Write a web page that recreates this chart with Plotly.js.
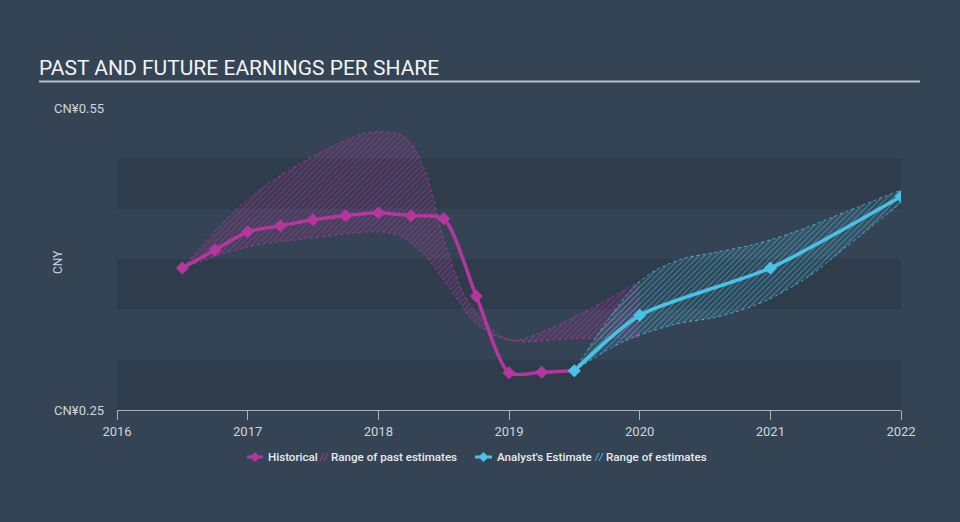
<!DOCTYPE html>
<html>
<head>
<meta charset="utf-8">
<script src="https://cdn.plot.ly/plotly-3.0.1.min.js"></script>
<style>
html,body{margin:0;padding:0;background:#344454;}
#chart{width:960px;height:522px;}
</style>
</head>
<body>
<div id="chart"></div>
<script>
// ---- data ----
const histX = [2016.5, 2016.75, 2017, 2017.25, 2017.5, 2017.75, 2018, 2018.25, 2018.5, 2018.75, 2019, 2019.25, 2019.5];
const histY = [0.391, 0.409, 0.427, 0.433, 0.439, 0.443, 0.446, 0.443, 0.440, 0.363, 0.287, 0.2875, 0.289];

const pastUpperX = [2016.5, 2017, 2017.5, 2017.95, 2018.2, 2018.35, 2018.5, 2018.7, 2019, 2019.3, 2019.55, 2019.8, 2020];
const pastUpperY = [0.391, 0.459, 0.502, 0.526, 0.521, 0.490, 0.420, 0.355, 0.320, 0.330, 0.346, 0.363, 0.378];
const pastLowerX = [2016.5, 2017, 2017.5, 2017.95, 2018.15, 2018.35, 2018.55, 2018.75, 2019, 2019.5, 2020];
const pastLowerY = [0.391, 0.412, 0.421, 0.427, 0.424, 0.404, 0.370, 0.336, 0.3195, 0.321, 0.3225];

const estX = [2019.5, 2020, 2021, 2022];
const estY = [0.289, 0.344, 0.391, 0.462];

const estUpperX = [2019.5, 2020, 2020.3, 2020.6, 2020.92, 2021.23, 2021.58, 2022];
const estUpperY = [0.289, 0.3775, 0.399, 0.407, 0.416, 0.429, 0.447, 0.4685];
const estLowerX = [2019.5, 2019.8, 2020, 2020.3, 2020.6, 2020.92, 2021.12, 2021.33, 2021.58, 2022];
const estLowerY = [0.289, 0.313, 0.3245, 0.336, 0.3427, 0.356, 0.369, 0.386, 0.412, 0.4556];

const xTicks = [2016, 2017, 2018, 2019, 2020, 2021, 2022];
const yTickVals = [0.25, 0.55];
const yTickText = ["CN¥0.25", "CN¥0.55"];
const bandLows = [0.25, 0.35, 0.45];

// ---- styling ----
const MAG = '#b5379d';
const CYAN = '#4cc1e6';
const BG = '#344454';
const BAND = '#2e3c4b';
const FONT = 'Roboto, "Open Sans", sans-serif';

const L = 117, R = 59, T = 108, B = 112, W = 960, H = 522;
const PW = W - L - R, PH = H - T - B;
const px = v => (v - L) / PW;
const py = v => (H - B - v) / PH;

const traces = [
  {x: pastLowerX, y: pastLowerY, mode: 'lines', line: {color: MAG, width: 0.8, dash: 'dot', shape: 'spline', smoothing: 1}, hoverinfo: 'skip', showlegend: false},
  {x: pastUpperX, y: pastUpperY, mode: 'lines', fill: 'tonexty', line: {color: MAG, width: 0.8, dash: 'dot', shape: 'spline', smoothing: 1},
   fillcolor: 'rgba(181,55,157,0.10)',
   fillpattern: {shape: '/', fgcolor: 'rgba(181,55,157,0.55)', bgcolor: 'rgba(181,55,157,0.08)', size: 4, solidity: 0.25},
   hoverinfo: 'skip', showlegend: false},
  {x: estLowerX, y: estLowerY, mode: 'lines', line: {color: CYAN, width: 0.8, dash: 'dot', shape: 'spline', smoothing: 1}, hoverinfo: 'skip', showlegend: false},
  {x: estUpperX, y: estUpperY, mode: 'lines', fill: 'tonexty', line: {color: CYAN, width: 0.8, dash: 'dot', shape: 'spline', smoothing: 1},
   fillcolor: 'rgba(76,193,230,0.10)',
   fillpattern: {shape: '/', fgcolor: 'rgba(76,193,230,0.55)', bgcolor: 'rgba(76,193,230,0.08)', size: 4, solidity: 0.25},
   hoverinfo: 'skip', showlegend: false},
  {x: histX, y: histY, mode: 'lines+markers', name: 'Historical',
   line: {color: MAG, width: 3.5, shape: 'spline', smoothing: 0.7},
   marker: {symbol: 'diamond', size: 10, color: MAG}, showlegend: false},
  {x: estX, y: estY, mode: 'lines+markers', name: "Analyst's Estimate",
   line: {color: CYAN, width: 3.5, shape: 'spline', smoothing: 0.7},
   marker: {symbol: 'diamond', size: 10, color: CYAN}, showlegend: false}
];

const shapes = [];
bandLows.forEach(b => {
  shapes.push({type: 'rect', xref: 'x', yref: 'y', x0: 2016, x1: 2022, y0: b, y1: b + 0.05,
    fillcolor: BAND, line: {width: 0}, layer: 'below'});
});
// title underline
shapes.push({type: 'line', xref: 'paper', yref: 'paper', x0: px(39), x1: px(920), y0: py(81.5), y1: py(81.5),
  line: {color: '#b9bfc6', width: 2}});

// legend icons
const ly = 457;
function legendLine(x0, x1, col) {
  shapes.push({type: 'line', xref: 'paper', yref: 'paper', x0: px(x0), x1: px(x1), y0: py(ly), y1: py(ly), line: {color: col, width: 3}});
  const cx = (x0 + x1) / 2, s = 5;
  shapes.push({type: 'path', xref: 'paper', yref: 'paper',
    path: `M ${px(cx)} ${py(ly - s)} L ${px(cx + s)} ${py(ly)} L ${px(cx)} ${py(ly + s)} L ${px(cx - s)} ${py(ly)} Z`,
    fillcolor: col, line: {width: 0}});
}
function legendHatch(x0, col) {
  [0, 4].forEach(d => {
    shapes.push({type: 'line', xref: 'paper', yref: 'paper', x0: px(x0 + d), x1: px(x0 + d + 4), y0: py(ly + 4), y1: py(ly - 4),
      line: {color: col, width: 1}});
  });
}
legendLine(247, 263, MAG);
legendHatch(320, MAG);
legendLine(475, 492, CYAN);
legendHatch(595, CYAN);

const legFont = {family: FONT, size: 11.6, color: '#e8ebee', weight: 500};
const annotations = [
  {text: 'Historical', x: px(266), y: py(ly), xref: 'paper', yref: 'paper', xanchor: 'left', yanchor: 'middle', showarrow: false, font: legFont},
  {text: 'Range of past estimates', x: px(329), y: py(ly), xref: 'paper', yref: 'paper', xanchor: 'left', yanchor: 'middle', showarrow: false, font: legFont},
  {text: "Analyst's Estimate", x: px(495), y: py(ly), xref: 'paper', yref: 'paper', xanchor: 'left', yanchor: 'middle', showarrow: false, font: legFont},
  {text: 'Range of estimates', x: px(604), y: py(ly), xref: 'paper', yref: 'paper', xanchor: 'left', yanchor: 'middle', showarrow: false, font: legFont},
  {text: 'CNY', x: px(58), y: py(262), xref: 'paper', yref: 'paper', xanchor: 'center', yanchor: 'middle', textangle: -90, showarrow: false,
   font: {family: FONT, size: 12, color: '#d0d5da'}}
];

const layout = {
  width: W, height: H,
  margin: {l: L, r: R, t: T, b: B, pad: 0},
  paper_bgcolor: BG, plot_bgcolor: 'rgba(0,0,0,0)',
  title: {text: 'PAST AND FUTURE EARNINGS PER SHARE', x: 39 / W, xref: 'container', xanchor: 'left',
    y: 1 - 68 / H, yref: 'container', yanchor: 'middle',
    font: {family: FONT, size: 21, color: '#f2f4f6'}},
  xaxis: {range: [2016, 2022], tickvals: xTicks, ticktext: xTicks.map(String), showgrid: false, zeroline: false,
    showline: true, linecolor: '#a9b1ba', linewidth: 1, ticks: 'outside', ticklen: 9, tickcolor: '#a9b1ba',
    tickfont: {family: FONT, size: 13, color: '#d0d5da'}, fixedrange: true},
  yaxis: {range: [0.25, 0.55], tickvals: yTickVals, ticktext: yTickText, showgrid: false, zeroline: false, showline: false,
    ticks: '', ticklabelstandoff: 12, tickfont: {family: FONT, size: 13, color: '#d0d5da'}, fixedrange: true},
  shapes: shapes,
  annotations: annotations,
  showlegend: false,
  hovermode: false
};

Plotly.newPlot('chart', traces, layout, {displayModeBar: false, staticPlot: true});
</script>
</body>
</html>
